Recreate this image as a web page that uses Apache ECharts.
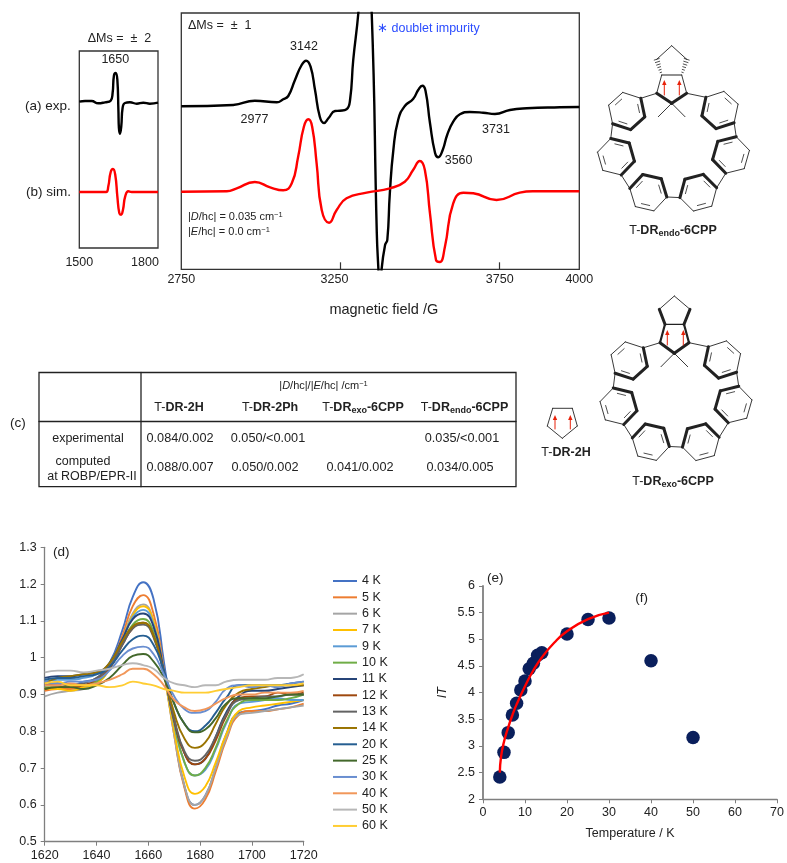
<!DOCTYPE html>
<html><head><meta charset="utf-8">
<style>html,body{margin:0;padding:0;background:#fff}#c{width:787px;height:863px}</style>
<script src="https://cdn.jsdelivr.net/npm/echarts@6/dist/echarts.min.js"></script>
</head><body><div id="c"></div>
<script>
// ---- Panel a/b : delta Ms = 2 (field in G, relative intensity)
const ms2ExpField=[1500,1522,1547,1572,1598,1619.5,1627,1632,1638.6,1645,1649,1651,1655,1660,1665,1674,1693,1719,1744,1769,1800];
const ms2ExpInt=[146.3,147,147,144.7,145.7,147.3,155,172.3,175,168.3,138.3,120,114.3,121.7,140,145,145.7,144.3,145.3,144.3,145.3];
const ms2SimField=[1500,1602,1610.6,1619.5,1628.4,1637,1645,1652.5,1659,1666.5,1675,1687,1699.6,1800];
const ms2SimInt=[56,56,61.7,75.7,79,73.3,51.7,35,33.3,38.3,51.7,56.7,56,56];
// ---- Panel a/b : delta Ms = 1
const ms1ExpField=[2750,2913,2981,3050,3070,3086,3107,3128,3142,3156,3170,3185,3198,3212,3233,3248,3269,3280,3290,3306,3317,3333,3348,3364,3369,3374,3379,3390,3397,3405,3416,3431,3452,3478,3494,3507,3517,3531,3547,3557,3571,3585,3604,3625,3656,3698,3735,3782,3835,3939,4000];
const ms1ExpInt=[163,164.3,168.6,167,170,173.3,189.3,204.3,208.6,202.6,179.3,152.6,146.3,151,158.3,158.6,160,169.3,209.3,256.3,309,309,256.3,36.3,0.3,-30,0,24.3,29.3,76.3,119.3,149.3,163.3,170.3,179.3,183.6,178.6,146.3,116.3,112,119.3,134.3,147.6,155,157.3,156.6,155.3,159.3,161,162,162.3];
const ms1SimField=[2750,2893,2924,2981,3029,3070,3097,3117,3135,3149,3161,3175,3191,3214,3238,3269,3332,3405,3452,3478,3499,3515,3531,3550,3562,3578,3604,3636,3667,3740,3813,3854,4000];
const ms1SimInt=[77.6,78,81,87.3,82,79,86,112.6,142.6,150,142.6,106,59.3,46.6,59.3,71,76.6,81,87.6,99.3,108.3,99.3,56,9.3,7.3,22.6,66,76.6,76,69.3,76.6,78,78];
// ---- Panel d : temperature series
const fieldD=[1620,1625,1630,1635,1640,1645,1650,1654,1658,1662,1666,1670,1674,1678,1682,1686,1690,1695,1700,1705,1710,1715,1720];
const tempNames=['4 K','5 K','6 K','7 K','9 K','10 K','11 K','12 K','13 K','14 K','20 K','25 K','30 K','40 K','50 K','60 K'];
const t4=[.925,.93,.925,.935,.945,.985,1.075,1.165,1.205,1.16,.99,.80,.65,.60,.625,.70,.79,.85,.855,.86,.87,.875,.885];
const t5=[.91,.915,.915,.92,.935,.975,1.06,1.14,1.17,1.12,.97,.79,.645,.59,.615,.69,.775,.845,.855,.855,.86,.865,.875];
const t6=[.895,.905,.91,.915,.93,.97,1.05,1.12,1.145,1.10,.96,.79,.65,.60,.625,.70,.78,.845,.85,.855,.86,.865,.87];
const t7=[.915,.915,.91,.92,.93,.97,1.05,1.115,1.14,1.10,.96,.80,.675,.63,.65,.715,.79,.855,.865,.87,.875,.88,.885];
const t9=[.935,.94,.94,.945,.955,.985,1.05,1.11,1.13,1.09,.965,.82,.715,.68,.695,.75,.82,.875,.88,.885,.89,.885,.885];
const t10=[.92,.92,.925,.925,.935,.97,1.04,1.09,1.105,1.07,.96,.825,.715,.68,.70,.755,.825,.875,.885,.885,.885,.89,.90];
const t11=[.945,.95,.95,.955,.96,.985,1.05,1.105,1.12,1.085,.965,.83,.74,.71,.725,.785,.85,.895,.91,.91,.915,.92,.925];
const t12=[.915,.92,.92,.925,.94,.97,1.035,1.08,1.095,1.06,.96,.83,.74,.71,.725,.775,.84,.89,.895,.895,.905,.90,.905];
const t13=[.925,.93,.925,.93,.945,.975,1.035,1.08,1.09,1.055,.955,.835,.745,.72,.735,.785,.845,.885,.89,.895,.895,.90,.90];
const t14=[.93,.945,.95,.955,.96,.985,1.045,1.085,1.095,1.06,.96,.85,.78,.755,.77,.82,.87,.905,.915,.92,.925,.925,.925];
const t20=[.94,.945,.945,.95,.955,.975,1.02,1.05,1.06,1.035,.965,.875,.82,.80,.815,.85,.89,.925,.925,.925,.925,.93,.935];
const t25=[.915,.92,.92,.915,.925,.945,.98,1.005,1.01,.99,.945,.875,.82,.797,.805,.835,.875,.89,.89,.89,.895,.90,.90];
const t30=[.935,.93,.935,.935,.94,.965,1.005,1.025,1.03,1.01,.955,.895,.86,.85,.855,.88,.915,.925,.92,.925,.92,.93,.935];
const t40=[.925,.925,.93,.925,.93,.94,.955,.97,.97,.955,.925,.885,.865,.855,.86,.875,.89,.90,.90,.905,.905,.905,.91];
const t50=[.96,.965,.965,.96,.965,.97,.98,.985,.98,.97,.945,.93,.925,.92,.925,.925,.935,.94,.94,.94,.945,.945,.955];
const t60=[.93,.935,.925,.925,.925,.92,.925,.935,.93,.925,.915,.91,.905,.905,.905,.91,.915,.92,.925,.925,.925,.925,.93];
const tempValues=[t4,t5,t6,t7,t9,t10,t11,t12,t13,t14,t20,t25,t30,t40,t50,t60];
const tempColors=['#4472C4','#ED7D31','#A5A5A5','#FFC000','#5B9BD5','#70AD47','#264478','#9E480E','#636363','#997300','#255E91','#43682B','#698ED0','#F1975A','#B7B7B7','#FFCD33'];
// ---- Panel e : IT vs T
const tempK=[4,5,6,7,8,9,10,11,12,13,14,20,25,30,40,50];
const itValues=[2.42,2.88,3.25,3.58,3.8,4.05,4.22,4.45,4.55,4.7,4.75,5.1,5.37,5.4,4.6,3.16];
const fitT=[4,4.3,5,6,7,8,10,12,14,17,20,25,30];
const fitIT=[2.5,2.8,3.08,3.35,3.58,3.78,4.12,4.42,4.66,4.94,5.15,5.38,5.5];
// ---- Panel c : table
const colX=[179,270,363,464.5];
const colHeads=['{n|T-}{b|DR-2H}','{n|T-}{b|DR-2Ph}','{n|T-}{b|DR}{bs|exo}{b|-6CPP}','{n|T-}{b|DR}{bs|endo}{b|-6CPP}'];
const rowExp=[['0.084/0.002',180],['0.050/<0.001',268],['0.035/<0.001',462]];
const rowComp=[['0.088/0.007',180],['0.050/0.002',265],['0.041/0.002',360],['0.034/0.005',460]];

const FONT='"Liberation Sans",Arial,sans-serif', INK='#222';
const zip=(a,b)=>a.map((v,i)=>[v,b[i]]);
const els=[];
const richBase={
  n:{fontSize:12.5,fontFamily:FONT,color:INK},
  b:{fontSize:12.5,fontFamily:FONT,fontWeight:'bold',color:INK},
  bs:{fontSize:9,fontFamily:FONT,fontWeight:'bold',color:INK,verticalAlign:'bottom',padding:[6,0,0,0]},
  sm:{fontSize:11,fontFamily:FONT,color:INK},
  smi:{fontSize:11,fontFamily:FONT,fontStyle:'italic',color:INK},
  ssup:{fontSize:7.5,fontFamily:FONT,color:INK,verticalAlign:'top',padding:[0,0,4,0]}
};
function T(x,y,text,o={}){
  els.push({type:'text',x,y,silent:true,z:10,style:Object.assign({text,fontFamily:FONT,fontSize:o.size||12.5,fill:o.fill||INK,
    align:o.align||'center',verticalAlign:'middle',rich:o.rich?richBase:undefined},o.style||{})});
}
function L(x1,y1,x2,y2,w=0.9,c='#222'){
  els.push({type:'line',silent:true,z:9,shape:{x1,y1,x2,y2},style:{stroke:c,lineWidth:w,lineCap:'round'}});
}
function arrow(x,y1,y2){
  L(x,y1,x,y2+3,1,'#e8220a');
  els.push({type:'polygon',silent:true,z:9,shape:{points:[[x,y2-1],[x-2.2,y2+4],[x+2.2,y2+4]]},style:{fill:'#e8220a'}});
}
function hatch(x1,y1,x2,y2){
  const n=6;
  for(let k=1;k<=n;k++){
    const t=k/n,px=x1+(x2-x1)*t,py=y1+(y2-y1)*t;
    const dx=x2-x1,dy=y2-y1,l=Math.hypot(dx,dy),hw=0.4+t*2.2;
    L(px-dy/l*hw,py+dx/l*hw,px+dy/l*hw,py-dx/l*hw,0.8);
  }
}
function ring(cx,cy,start,r=19){
  const v=[];
  for(let k=0;k<6;k++){const a=(start+k*60)*Math.PI/180;v.push([cx+r*Math.cos(a),cy+r*Math.sin(a)]);}
  for(let k=0;k<6;k++){
    const p=v[k],q=v[(k+1)%6];
    L(p[0],p[1],q[0],q[1],k<3?3:0.9);
    if(k%2===0){
      const f=0.74,g=0.2;
      const ax=cx+(p[0]-cx)*f,ay=cy+(p[1]-cy)*f,bx=cx+(q[0]-cx)*f,by=cy+(q[1]-cy)*f;
      L(ax+(bx-ax)*g,ay+(by-ay)*g,bx-(bx-ax)*g,by-(by-ay)*g,0.8);
    }
  }
  return v;
}
const ringCenters=[[626.7,111,-42],[616,156.7,-106],[648.3,192.7,-167],[698.3,192.7,165],[731,155,106],[720,110,42]];
function macrocycle(dx,dy,c1,c4){
  const vs=ringCenters.map(c=>ring(c[0]+dx,c[1]+dy,c[2]));
  for(let i=0;i<5;i++){L(vs[i][3][0],vs[i][3][1],vs[i+1][0][0],vs[i+1][0][1]);}
  L(c1[0],c1[1],vs[0][0][0],vs[0][0][1]);
  L(c4[0],c4[1],vs[5][3][0],vs[5][3][1]);
}
// endo structure
macrocycle(0,0,[656.7,93.3],[686.7,93.3]);
L(656.7,93.3,661.7,75);L(661.7,75,681.7,75,1.1);L(681.7,75,686.7,93.3);
L(656.7,93.3,671.7,103.3,3);L(686.7,93.3,671.7,103.3,3);
L(671.7,103.3,658.3,116.7);L(671.7,103.3,685,116.7);
hatch(661.7,75,656.7,59.3);hatch(681.7,75,686.7,59.3);
L(656.7,59.3,671.7,45.7);L(671.7,45.7,686.7,59.3);
arrow(664.3,95,81);arrow(679.3,95,81);
T(673,231,'{n|T-}{b|DR}{bs|endo}{b|-6CPP}',{rich:true});
// exo structure
macrocycle(2.5,249.5,[660,342.7],[689,342.7]);
L(660,342.7,665,324.3,2.2);L(665,324.3,684,324.3,1.3);L(684,324.3,689,342.7,2.2);
L(660,342.7,674.3,353.3,3);L(689,342.7,674.3,353.3,3);
L(674.3,353.3,661,366.7);L(674.3,353.3,687.7,366.7);
L(665,324.3,659.3,309.3,3);L(684,324.3,690,309.3,3);
L(659.3,309.3,674.3,296);L(674.3,296,690,309.3);
arrow(667.3,345,331);arrow(683.3,345,331);
T(673,481.7,'{n|T-}{b|DR}{bs|exo}{b|-6CPP}',{rich:true});
// 2H structure
L(552.7,408.3,572.3,408.3);L(572.3,408.3,577.3,426);L(577.3,426,562.3,438.3);L(562.3,438.3,547.3,426);L(547.3,426,552.7,408.3);
arrow(555,429,416);arrow(570.3,429,416);
T(566,453,'{n|T-}{b|DR-2H}',{rich:true});
// Text on spectra
T(119.5,38.7,'ΔMs =  ±  2',{size:12.5});
T(115.3,60,'1650');
T(25,106,'(a) exp.',{align:'left',size:13.5});
T(26,192,'(b) sim.',{align:'left',size:13.5});
T(188,25.5,'ΔMs =  ±  1',{align:'left'});
T(304,46.7,'3142');T(254.5,119.7,'2977');T(444.7,160.5,'3560',{align:'left'});T(496,129.5,'3731');
T(377,29,'∗ doublet impurity',{align:'left',fill:'#2b4cff'});
T(188,217,'{sm||}{smi|D}{sm|/hc| = 0.035 cm}{ssup|−1}',{align:'left',rich:true});
T(188,232,'{sm||}{smi|E}{sm|/hc| = 0.0 cm}{ssup|−1}',{align:'left',rich:true});
// Table
els.push({type:'rect',silent:true,z:9,shape:{x:39,y:372.5,width:477,height:114.2},style:{fill:'none',stroke:'#222',lineWidth:1.3}});
L(141,372.5,141,486.7,1.3);L(39,421.5,516,421.5,1.3);
T(323.5,386,'{sm||}{smi|D}{sm|/hc|/|}{smi|E}{sm|/hc| /cm}{ssup|−1}',{rich:true});
colHeads.forEach((h,i)=>T(colX[i],408,h,{rich:true}));
T(88,438.7,'experimental',{size:12.5});
rowExp.forEach(r=>T(r[1],438.7,r[0],{size:12.7}));
T(83,462,'computed',{size:12.5});T(92,476.5,'at ROBP/EPR-II',{size:12.5});
rowComp.forEach(r=>T(r[1],467.4,r[0],{size:12.7}));
T(10,423,'(c)',{align:'left',size:13.5});
T(53,552.7,'(d)',{align:'left',size:13.5});
T(487,578,'(e)',{align:'left',size:13.5});
T(641.7,598,'(f)',{size:13.5});

const labelFont={fontFamily:FONT,fontSize:12.5,color:INK};
const frame={show:true,borderColor:'#333',borderWidth:1.3,backgroundColor:'transparent'};
const grey={lineStyle:{color:'#7f7f7f',width:1.3}};
const specLine=(name,x,y,idx,color,width=2.4)=>({name,type:'line',xAxisIndex:idx,yAxisIndex:idx,data:zip(x,y),smooth:0.5,symbol:'none',silent:true,lineStyle:{color,width},itemStyle:{color},z:3});

const option={
  animation:false,backgroundColor:'#fff',
  textStyle:{fontFamily:FONT},
  legend:{data:tempNames,orient:'vertical',left:333,top:574,padding:0,icon:'rect',itemWidth:24,itemHeight:2,itemGap:2.33,
    selectedMode:false,textStyle:{fontFamily:FONT,fontSize:12.5,color:INK,lineHeight:14}},
  grid:[
    Object.assign({left:79.3,top:51,width:78.7,height:197},frame),
    Object.assign({left:181.3,top:13,width:398,height:256.3},frame),
    {left:44.7,top:547.3,width:259,height:294.4},
    {left:483,top:586,width:296.3,height:213.3}
  ],
  xAxis:[
    {gridIndex:0,type:'value',min:1500,max:1800,splitLine:{show:false},axisLine:{show:false},axisTick:{show:false},
      axisLabel:Object.assign({},labelFont,{customValues:[1500,1800],margin:8,
        formatter:v=>v===1800?'{s|1800}':String(v),rich:{s:Object.assign({},labelFont,{padding:[0,26,0,0]})}})},
    {gridIndex:1,type:'value',min:2750,max:4000,splitLine:{show:false},axisLine:{show:false},
      axisTick:{show:true,inside:true,length:7,customValues:[3250,3750],lineStyle:{color:'#333',width:1.2}},
      axisLabel:Object.assign({},labelFont,{customValues:[2750,3250,3750,4000],margin:4,
        formatter:v=>v===3250?'{s|3250}':String(v),rich:{s:Object.assign({},labelFont,{padding:[0,12,0,0]})}}),
      name:'magnetic field /G',nameLocation:'middle',nameGap:33,nameTextStyle:{fontFamily:FONT,fontSize:14.5,color:INK,padding:[0,0,0,7]}},
    {gridIndex:2,type:'value',min:1620,max:1720,interval:20,splitLine:{show:false},axisLine:grey,
      axisTick:{show:true,length:4,lineStyle:{color:'#7f7f7f'}},axisLabel:Object.assign({},labelFont,{margin:7,formatter:v=>String(v)})},
    {gridIndex:3,type:'value',min:0,max:70,interval:10,splitLine:{show:false},axisLine:grey,
      axisTick:{show:true,length:4,inside:false,lineStyle:{color:'#7f7f7f'}},axisLabel:Object.assign({},labelFont,{margin:7}),
      name:'Temperature / K',nameLocation:'middle',nameGap:28,nameTextStyle:{fontFamily:FONT,fontSize:12.5,color:INK}}
  ],
  yAxis:[
    {gridIndex:0,type:'value',min:0,max:197,show:false,splitLine:{show:false}},
    {gridIndex:1,type:'value',min:0,max:256.3,show:false,splitLine:{show:false}},
    {gridIndex:2,type:'value',min:0.5,max:1.3,interval:0.1,splitLine:{show:false},axisLine:Object.assign({show:true},grey),
      axisTick:{show:true,length:4,lineStyle:{color:'#7f7f7f'}},axisLabel:Object.assign({},labelFont,{margin:8})},
    {gridIndex:3,type:'value',min:2,max:6,interval:0.5,splitLine:{show:false},axisLine:{show:true,lineStyle:{color:'#7f7f7f',width:1.8}},
      axisTick:{show:true,length:4,lineStyle:{color:'#7f7f7f'}},axisLabel:Object.assign({},labelFont,{margin:8}),
      name:'IT',nameLocation:'middle',nameRotate:90,nameGap:34,nameTextStyle:{fontFamily:FONT,fontSize:12.5,fontStyle:'italic',color:INK}}
  ],
  series:[
    specLine('ΔMs=2 exp',ms2ExpField,ms2ExpInt,0,'#000'),
    specLine('ΔMs=2 sim',ms2SimField,ms2SimInt,0,'#f00'),
    specLine('ΔMs=1 exp',ms1ExpField,ms1ExpInt,1,'#000'),
    specLine('ΔMs=1 sim',ms1SimField,ms1SimInt,1,'#f00'),
    ...tempNames.map((n,i)=>({name:n,type:'line',xAxisIndex:2,yAxisIndex:2,data:zip(fieldD,tempValues[i]),smooth:0.5,symbol:'none',silent:true,
      lineStyle:{color:tempColors[i],width:1.9},itemStyle:{color:tempColors[i]},z:3})),
    {name:'IT',type:'scatter',xAxisIndex:3,yAxisIndex:3,data:zip(tempK,itValues),symbolSize:13.5,itemStyle:{color:'#0a1f5c',opacity:1},silent:true,z:3},
    {name:'fit',type:'line',xAxisIndex:3,yAxisIndex:3,data:zip(fitT,fitIT),smooth:0.5,symbol:'none',silent:true,lineStyle:{color:'#f00',width:2.4},z:4}
  ],
  graphic:{elements:els}
};
echarts.init(document.getElementById('c'),null,{renderer:'canvas',width:787,height:863}).setOption(option);
</script></body></html>
